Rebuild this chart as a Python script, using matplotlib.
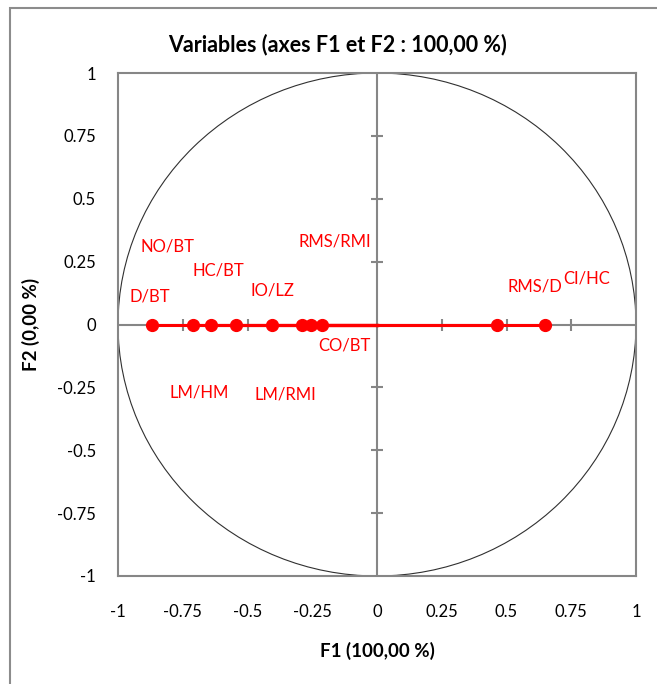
import numpy as np
import matplotlib.pyplot as plt
from matplotlib.patches import Circle, Rectangle

# Variable coordinates on F1 / F2
names = ['D/BT', 'NO/BT', 'HC/BT', 'IO/LZ', 'RMS/RMI', 'CO/BT',
         'LM/HM', 'LM/RMI', 'RMS/D', 'CI/HC']
f1 = [-0.870, -0.712, -0.642, -0.544, -0.404, -0.288, -0.255, -0.212, 0.462, 0.649]
f2 = [0.0, 0.0, 0.0, 0.0, 0.0, 0.0, 0.0, 0.0, 0.0, 0.0]

# label positions (as placed in the original chart)
lab_x = [-0.876, -0.807, -0.612, -0.405, -0.164, -0.127, -0.688, -0.355, 0.608, 0.811]
lab_y = [0.113, 0.312, 0.214, 0.137, 0.329, -0.082, -0.272, -0.280, 0.153, 0.184]

ticks = [-1, -0.75, -0.5, -0.25, 0, 0.25, 0.5, 0.75, 1]
tick_labels = ['-1', '-0.75', '-0.5', '-0.25', '0', '0.25', '0.5', '0.75', '1']
inner_ticks = [-0.75, -0.5, -0.25, 0.25, 0.5, 0.75]

plt.rcParams['font.family'] = ['Lato', 'DejaVu Sans']

fig = plt.figure(figsize=(6.57, 6.84), dpi=100)
ax = fig.add_axes([118/657, 1-576/684, (636-118)/657, (576-73)/684])

# outer chart border
fig.patches.append(Rectangle((10/657, -0.1), 1.2, 1-8/684+0.1, transform=fig.transFigure,
                             fill=False, edgecolor='#8c8c8c', linewidth=1.5))

grey = '#868686'
ax.set_xlim(-1, 1)
ax.set_ylim(-1, 1)
for s in ax.spines.values():
    s.set_color(grey)
    s.set_linewidth(1.5)

# centre axes with tick marks
ax.axhline(0, color=grey, lw=1.5, zorder=1)
ax.axvline(0, color=grey, lw=1.5, zorder=1)
ax.plot(inner_ticks, [0]*len(inner_ticks), ls='none', marker='|', ms=8, mew=1.5, color=grey, zorder=1)
ax.plot([0]*len(inner_ticks), inner_ticks, ls='none', marker='_', ms=8, mew=1.5, color=grey, zorder=1)

ax.add_patch(Circle((0, 0), 1, fill=False, edgecolor='#303030', lw=0.8, zorder=1))

# vectors and points
for x, y in zip(f1, f2):
    ax.plot([0, x], [0, y], color='red', lw=2.2, zorder=2)
ax.plot(f1, f2, ls='none', marker='o', ms=8.5, color='red', zorder=3)

for n, x, y in zip(names, lab_x, lab_y):
    ax.text(x, y, n, color='red', fontsize=12, ha='center', va='center')

ax.set_xticks(ticks)
ax.set_xticklabels(tick_labels)
ax.set_yticks(ticks)
ax.set_yticklabels(tick_labels)
ax.tick_params(axis='x', length=0, pad=20, labelsize=12)
ax.tick_params(axis='y', length=0, pad=16, labelsize=12)

ax.set_xlabel('F1 (100,00 %)', fontsize=13.5, fontweight='bold', labelpad=16)
ax.set_ylabel('F2 (0,00 %)', fontsize=13.5, fontweight='bold', labelpad=12)
fig.text(338/657, 1-45/684, 'Variables (axes F1 et F2 : 100,00 %)', fontsize=15.5,
         fontweight='bold', ha='center', va='center')

fig.savefig('out.png', dpi=100)
